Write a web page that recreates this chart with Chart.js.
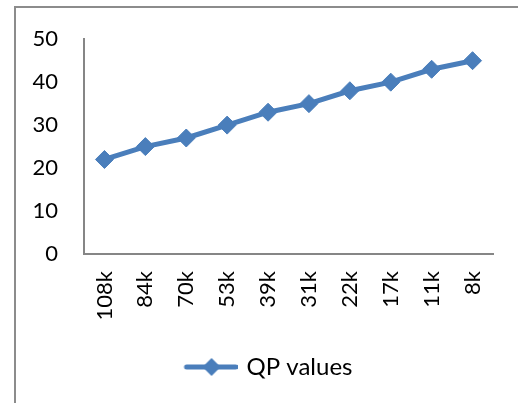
<!DOCTYPE html>
<html>
<head>
<meta charset="utf-8">
<script src="https://cdn.jsdelivr.net/npm/chart.js@4/dist/chart.umd.min.js"></script>
<style>
  html, body { margin: 0; padding: 0; background: #fff; }
  #wrap { position: relative; width: 518px; height: 403px; overflow: hidden; }
  #frame { position: absolute; left: 14px; top: 6px; width: 600px; height: 500px;
           border-left: 2px solid #8c8c8c; border-top: 2px solid #8c8c8c; }
  canvas { position: absolute; left: 0; top: 0; }
</style>
</head>
<body>
<div id="wrap">
  <div id="frame"></div>
  <canvas id="chart" width="518" height="403"></canvas>
</div>
<script>
// data
const categories = ['108k', '84k', '70k', '53k', '39k', '31k', '22k', '17k', '11k', '8k'];
const qpValues   = [22, 25, 27, 30, 33, 35, 38, 40, 43, 45];
const yTicks     = [0, 10, 20, 30, 40, 50];

const BLUE = '#4a7ebb';
const FONT = "Lato, 'Open Sans', sans-serif";

// legend marker: line with a diamond in the middle (left part left blank to nudge legend right)
function legendMarker() {
  const c = document.createElement('canvas');
  c.width = 100; c.height = 20;
  const g = c.getContext('2d');
  g.strokeStyle = BLUE; g.lineWidth = 5; g.lineCap = 'round';
  g.beginPath(); g.moveTo(49, 10); g.lineTo(98, 10); g.stroke();
  g.fillStyle = BLUE;
  g.beginPath(); g.moveTo(74, 1); g.lineTo(83, 10); g.lineTo(74, 19); g.lineTo(65, 10); g.closePath(); g.fill();
  return c;
}
const marker = legendMarker();

new Chart(document.getElementById('chart'), {
  type: 'line',
  data: {
    labels: categories,
    datasets: [{
      label: 'QP values',
      data: qpValues,
      borderColor: BLUE,
      backgroundColor: BLUE,
      borderWidth: 5,
      pointStyle: 'rectRot',
      pointRadius: 9,
      pointHoverRadius: 9,
      pointBackgroundColor: BLUE,
      pointBorderColor: BLUE,
      pointBorderWidth: 1,
      tension: 0
    }]
  },
  options: {
    responsive: false,
    animation: false,
    layout: { padding: { top: 34, right: 25, bottom: 14, left: 0 } },
    plugins: {
      tooltip: { enabled: false },
      legend: {
        position: 'bottom',
        labels: {
          usePointStyle: true,
          pointStyleWidth: 94,
          padding: 10,
          color: '#000',
          font: { family: FONT, size: 24 },
          generateLabels: chart => chart.data.datasets.map((ds, i) => ({
            text: ds.label,
            pointStyle: marker,
            fillStyle: BLUE,
            strokeStyle: BLUE,
            lineWidth: 0,
            datasetIndex: i,
            hidden: false,
            fontColor: '#000'
          }))
        }
      }
    },
    scales: {
      x: {
        offset: true,
        grid: { display: false, drawTicks: false },
        border: { display: true, color: '#868686', width: 2 },
        ticks: {
          color: '#000',
          font: { family: FONT, size: 22 },
          minRotation: 90,
          maxRotation: 90,
          padding: 17
        },
        afterFit: s => { s.height = 91; }
      },
      y: {
        min: 0,
        max: 50,
        grid: { display: false, drawTicks: false },
        border: { display: true, color: '#868686', width: 2 },
        afterBuildTicks: s => { s.ticks = yTicks.map(v => ({ value: v })); },
        ticks: {
          color: '#000',
          font: { family: FONT, size: 22 },
          padding: 26
        },
        afterFit: s => { s.width = 84; }
      }
    }
  }
});
</script>
</body>
</html>
